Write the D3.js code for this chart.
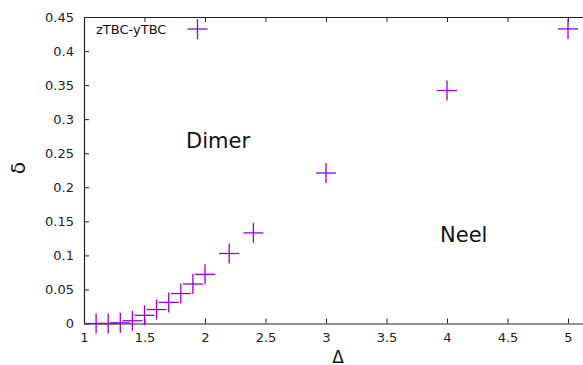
<!DOCTYPE html>
<html>
<head>
<meta charset="utf-8">
<script src="https://cdn.jsdelivr.net/npm/d3@7"></script>
<style>
body { margin: 0; background: #fff; }
svg { display: block; font-family: "DejaVu Sans", sans-serif; }
</style>
</head>
<body>
<script>
const width = 583, height = 365;

// data
const deltaX = [1.1, 1.2, 1.3, 1.4, 1.5, 1.6, 1.7, 1.8, 1.9, 2.0, 2.2, 2.4, 3, 4, 5];
const deltaY = [0, 0, 0.001, 0.004, 0.012, 0.0205, 0.031, 0.044, 0.058, 0.0722, 0.1028, 0.133, 0.221, 0.342, 0.4325];
const xTicks = [1, 1.5, 2, 2.5, 3, 3.5, 4, 4.5, 5];
const yTicks = [0, 0.05, 0.1, 0.15, 0.2, 0.25, 0.3, 0.35, 0.4, 0.45];
const seriesName = "zTBC-yTBC";
const color = "#9400d3";

const svg = d3.select("body").append("svg")
    .attr("width", width)
    .attr("height", height)

const xScale = d3.scaleLinear().domain([1, 5.2]).range([84, 84 + 4.2 * 121])
const yScale = d3.scaleLinear().domain([0, 0.45]).range([323.5, 17])

const fmt = d => String(d)

// bottom axis, ticks point inward
const xAxis = d3.axisBottom(xScale).tickValues(xTicks).tickFormat(fmt).tickSizeInner(-5).tickSizeOuter(0).tickPadding(9)
const gx = svg.append("g")
    .attr("transform", "translate(0," + yScale(0) + ")")
    .call(xAxis)
// top border with mirrored ticks
const xTop = d3.axisTop(xScale).tickValues(xTicks).tickFormat("").tickSizeInner(-5).tickSizeOuter(0)
const gt = svg.append("g")
    .attr("transform", "translate(0," + yScale(0.45) + ")")
    .call(xTop)
const yAxis = d3.axisLeft(yScale).tickValues(yTicks).tickFormat(fmt).tickSizeInner(-5).tickSizeOuter(0).tickPadding(10)
const gy = svg.append("g")
    .attr("transform", "translate(" + xScale(1) + ",0)")
    .call(yAxis)

svg.selectAll(".domain").attr("stroke", "#222").attr("stroke-width", 1.2)
svg.selectAll(".tick line").attr("stroke", "#222").attr("stroke-width", 1)
svg.selectAll(".tick text").attr("font-size", 13).attr("fill", "#222").attr("font-family", "DejaVu Sans, sans-serif")

// points as plus markers
const pts = deltaX.map((x, i) => ({ x: x, y: deltaY[i] }))
const arm = 10
const marks = svg.append("g").selectAll("g")
    .data(pts)
    .enter()
    .append("g")
    .attr("transform", d => "translate(" + xScale(d.x) + "," + yScale(d.y) + ")")
marks.append("line").attr("x1", -arm).attr("x2", arm).attr("y1", 0).attr("y2", 0)
marks.append("line").attr("x1", 0).attr("x2", 0).attr("y1", -arm).attr("y2", arm)
marks.selectAll("line").attr("stroke", color).attr("stroke-width", 1.3)

// key
svg.append("text")
    .attr("x", 96).attr("y", 33.5)
    .attr("font-size", 13)
    .attr("fill", "#111")
    .text(seriesName)
const key = svg.append("g").attr("transform", "translate(197.5,29)")
key.append("line").attr("x1", -arm).attr("x2", arm).attr("stroke", color).attr("stroke-width", 1.3)
key.append("line").attr("y1", -arm).attr("y2", arm).attr("stroke", color).attr("stroke-width", 1.3)

// region labels
svg.append("text").attr("x", 186).attr("y", 147.5).attr("font-size", 21).attr("fill", "#111").text("Dimer")
svg.append("text").attr("x", 440).attr("y", 241.5).attr("font-size", 21).attr("fill", "#111").text("Neel")

// axis titles
svg.append("text")
    .attr("transform", "translate(25,168) rotate(-90)")
    .attr("text-anchor", "middle")
    .attr("font-size", 20)
    .attr("fill", "#111")
    .text("δ")
svg.append("text")
    .attr("x", 338).attr("y", 363)
    .attr("text-anchor", "middle")
    .attr("font-size", 17)
    .attr("fill", "#111")
    .text("Δ")
</script>
</body>
</html>
